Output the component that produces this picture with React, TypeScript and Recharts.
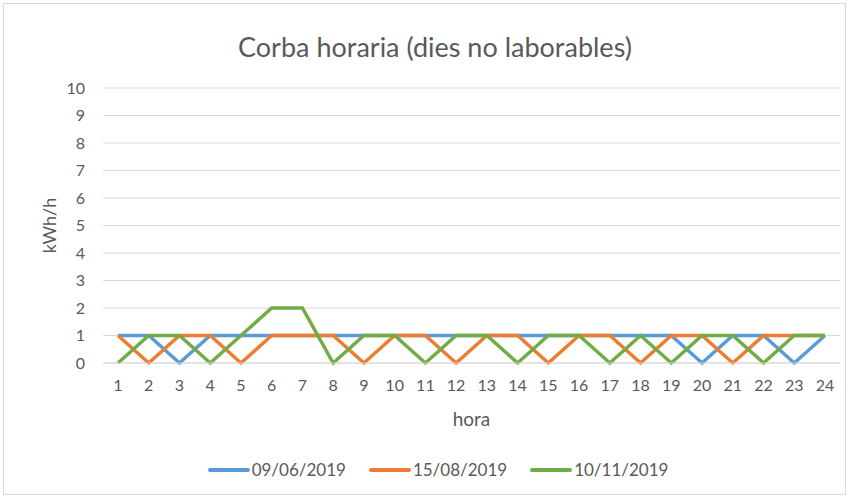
import React from 'react';
import { LineChart, Line, XAxis, YAxis, CartesianGrid, Legend, Label } from 'recharts';

const hours = ['1', '2', '3', '4', '5', '6', '7', '8', '9', '10', '11', '12', '13', '14', '15', '16', '17', '18', '19', '20', '21', '22', '23', '24'];
const day0906 = [1, 1, 0, 1, 1, 1, 1, 1, 1, 1, 1, 1, 1, 1, 1, 1, 1, 1, 1, 0, 1, 1, 0, 1];
const day1508 = [1, 0, 1, 1, 0, 1, 1, 1, 0, 1, 1, 0, 1, 1, 0, 1, 1, 0, 1, 1, 0, 1, 1, 1];
const day1011 = [0, 1, 1, 0, 1, 2, 2, 0, 1, 1, 0, 1, 1, 0, 1, 1, 0, 1, 0, 1, 1, 0, 1, 1];
const yTicks = [0, 1, 2, 3, 4, 5, 6, 7, 8, 9, 10];

const series = [
  { key: 'd1', name: '09/06/2019', color: '#5B9BD5' },
  { key: 'd2', name: '15/08/2019', color: '#ED7D31' },
  { key: 'd3', name: '10/11/2019', color: '#70AD47' },
];

const data = hours.map((h, i) => ({ hora: h, d1: day0906[i], d2: day1508[i], d3: day1011[i] }));

const FONT = 'Lato, "Noto Sans", sans-serif';
const GRAY = '#595959';

const LegendContent = () => (
  <div style={{ display: 'flex', justifyContent: 'center', gap: 23, fontFamily: FONT, fontSize: 17, color: GRAY }}>
    {series.map((s) => (
      <div key={s.key} style={{ display: 'flex', alignItems: 'center' }}>
        <span style={{ display: 'inline-block', width: 42, height: 4, borderRadius: 2, background: s.color, marginRight: 2 }} />
        <span>{s.name}</span>
      </div>
    ))}
  </div>
);

export default function App() {
  return (
    <div style={{ position: 'absolute', left: 0, top: 0, width: 848, height: 497, background: '#fff' }}>
      <div style={{ position: 'absolute', left: 3, top: 3, width: 841, height: 490, border: '1px solid #d9d9d9' }} />
      <div style={{ position: 'absolute', left: 0, top: 30, width: 870, textAlign: 'center', fontFamily: FONT, fontSize: 27, color: GRAY }}>
        Corba horaria (dies no laborables)
      </div>
      <LineChart width={848} height={497} data={data} margin={{ top: 88, right: 8, bottom: 66, left: 0 }}>
        <CartesianGrid vertical={false} stroke="#d9d9d9" />
        <XAxis
          dataKey="hora"
          height={68}
          padding={{ left: 15, right: 15 }}
          axisLine={{ stroke: '#d9d9d9' }}
          tickLine={false}
          tickMargin={11}
          tick={{ fill: GRAY, fontSize: 16, fontFamily: FONT }}
          interval={0}
        >
          <Label value="hora" position="insideBottom" offset={5} style={{ fill: GRAY, fontSize: 19, fontFamily: FONT }} />
        </XAxis>
        <YAxis
          width={103}
          domain={[0, 10]}
          ticks={yTicks}
          interval={0}
          axisLine={false}
          tickLine={false}
          tickMargin={12}
          tick={{ fill: GRAY, fontSize: 16, fontFamily: FONT }}
        >
          <Label value="kWh/h" angle={-90} position="center" dx={-2} style={{ fill: GRAY, fontSize: 18, fontFamily: FONT, textAnchor: 'middle' }} />
        </YAxis>
        <Legend
          layout="horizontal"
          verticalAlign="middle"
          align="center"
          content={<LegendContent />}
          wrapperStyle={{ top: 459, left: 14, width: 848 }}
        />
        {series.map((s) => (
          <Line
            key={s.key}
            type="linear"
            dataKey={s.key}
            name={s.name}
            stroke={s.color}
            strokeWidth={3.5}
            dot={false}
            activeDot={false}
            isAnimationActive={false}
          />
        ))}
      </LineChart>
    </div>
  );
}
